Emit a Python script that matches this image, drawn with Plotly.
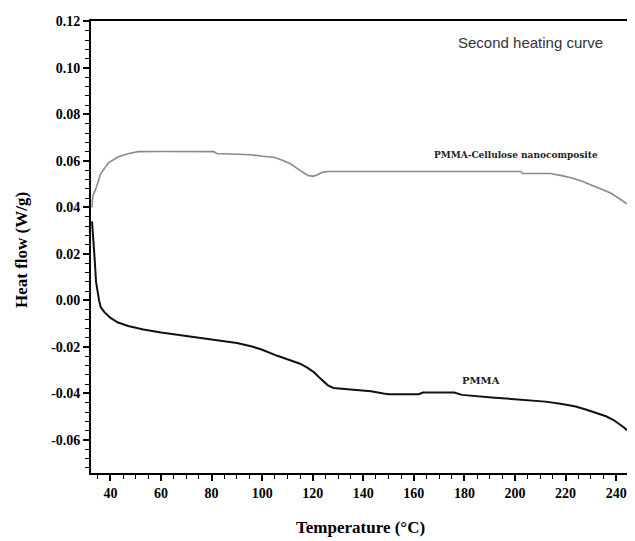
import plotly.graph_objects as go

# PMMA (black curve)
pmma_t = [32.7, 33.3, 33.8, 34.3, 35.0, 35.5, 36.2, 37.6, 40, 43, 47, 53, 60, 70, 80, 90, 96, 100,
          106, 111, 115, 118, 120.4, 122.5, 124.3, 126, 128.2, 132, 137, 143, 148, 150, 162, 163.5,
          176, 179, 192, 205, 212, 218, 224, 228, 232, 236, 239, 241, 243, 244.3]
pmma_h = [0.034, 0.026, 0.017, 0.008, 0.002, 0.0, -0.003, -0.005, -0.0075, -0.0095, -0.011, -0.0125,
          -0.0138, -0.0152, -0.0167, -0.0183, -0.0198, -0.0212, -0.0238, -0.0256, -0.0272, -0.029,
          -0.0308, -0.033, -0.035, -0.0365, -0.0376, -0.038, -0.0383, -0.039, -0.040, -0.0403, -0.0403,
          -0.0396, -0.0396, -0.0406, -0.0418, -0.0429, -0.0435, -0.0444, -0.0456, -0.0469, -0.0482,
          -0.0498, -0.0514, -0.0529, -0.0545, -0.0558]

# PMMA-Cellulose nanocomposite (grey curve)
comp_t = [32.7, 33.0, 34.2, 36.1, 39.2, 43.1, 47, 50.9, 60, 70, 80.9, 82, 93.7, 95.3, 100.3, 105, 108,
          111.2, 113.5, 115.1, 117, 118.6, 120.5, 121.7, 123.5, 125.6, 140, 160, 180, 202.3, 203, 214,
          218, 221.7, 226, 229.5, 233, 235.7, 238, 239.6, 242, 244.3]
comp_h = [0.040, 0.045, 0.048, 0.0545, 0.0592, 0.0618, 0.0631, 0.064, 0.0641, 0.0641, 0.064, 0.0632,
          0.063, 0.0627, 0.062, 0.0615, 0.0603, 0.0588, 0.057, 0.0558, 0.0545, 0.0536, 0.0535, 0.054,
          0.055, 0.0555, 0.0555, 0.0555, 0.0555, 0.0555, 0.0546, 0.0546, 0.0538, 0.0529, 0.0515, 0.050,
          0.0486, 0.0472, 0.0461, 0.045, 0.0435, 0.0416]

x_ticks = [40, 60, 80, 100, 120, 140, 160, 180, 200, 220, 240]
y_ticks = [-0.06, -0.04, -0.02, 0.00, 0.02, 0.04, 0.06, 0.08, 0.10, 0.12]
y_tick_labels = ["-0.06", "-0.04", "-0.02", "0.00", "0.02", "0.04", "0.06", "0.08", "0.10", "0.12"]

# the page body has an 8px default margin: the figure starts at (8, 8) in the window
# and is visible up to x = 627
OFF = 8
W, H = 635 - 2 * OFF, 541 - OFF
plot_l, plot_r, plot_t, plot_b = 91 - OFF, 627 - OFF, 21 - OFF, 473 - OFF

def px(xp, yp):
    xp -= OFF
    yp -= OFF
    return (xp - plot_l) / (plot_r - plot_l), (plot_b - yp) / (plot_b - plot_t)

fig = go.Figure()
fig.add_trace(go.Scatter(x=comp_t, y=comp_h, mode="lines", line=dict(color="#8a8a8a", width=1.6),
                         showlegend=False, hoverinfo="skip"))
fig.add_trace(go.Scatter(x=pmma_t, y=pmma_h, mode="lines", line=dict(color="#111111", width=2),
                         showlegend=False, hoverinfo="skip"))

tickfont = dict(family="Liberation Serif", size=14, color="black", weight="bold")

ax_y_x, ax_y_y = px(22, 250)
ax_x_x, ax_x_y = px(360, 527)
sh_x, sh_y = px(530, 43)

fig.update_layout(
    width=W, height=H,
    margin=dict(l=plot_l, r=W - plot_r, t=plot_t, b=H - plot_b, pad=0),
    plot_bgcolor="white", paper_bgcolor="white",
    xaxis=dict(range=[32.3, 244.3], tickvals=x_ticks, ticks="outside", ticklen=6, tickwidth=1.5,
               tickcolor="black", showline=True, linecolor="black", linewidth=1.8, mirror=True,
               showgrid=False, zeroline=False, tickfont=tickfont, automargin=False,
               minor=dict(dtick=5, tick0=0, ticks="outside", ticklen=4, tickwidth=1, tickcolor="black")),
    yaxis=dict(range=[-0.0742, 0.1202], tickvals=y_ticks, ticktext=y_tick_labels, ticks="outside",
               ticklen=6, tickwidth=1.5, tickcolor="black", showline=True, linecolor="black",
               linewidth=1.8, showgrid=False, zeroline=False, tickfont=tickfont, automargin=False,
               minor=dict(dtick=0.004, tick0=0, ticks="outside", ticklen=4, tickwidth=1, tickcolor="black")),
    annotations=[
        dict(text="Second heating curve", x=sh_x, y=sh_y, xref="paper", yref="paper",
             xanchor="center", yanchor="middle",
             showarrow=False, font=dict(family="Liberation Sans", size=15, color="#333333")),
        dict(text="PMMA-Cellulose nanocomposite", x=200.3, y=0.0625, xref="x", yref="y",
             xanchor="center", yanchor="middle",
             showarrow=False, font=dict(family="DejaVu Serif", size=9, color="#222222", weight="bold")),
        dict(text="PMMA", x=186.6, y=-0.0343, xref="x", yref="y", showarrow=False,
             xanchor="center", yanchor="middle",
             font=dict(family="DejaVu Serif", size=10, color="#222222", weight="bold")),
        dict(text="Heat flow (W/g)", x=ax_y_x, y=ax_y_y, xref="paper", yref="paper", showarrow=False,
             xanchor="center", yanchor="middle",
             textangle=-90, font=dict(family="Liberation Serif", size=17, color="black", weight="bold")),
        dict(text="Temperature (°C)", x=ax_x_x, y=ax_x_y, xref="paper", yref="paper", showarrow=False,
             xanchor="center", yanchor="middle",
             font=dict(family="Liberation Serif", size=17, color="black", weight="bold")),
    ],
)

fig.write_html("out.html")
